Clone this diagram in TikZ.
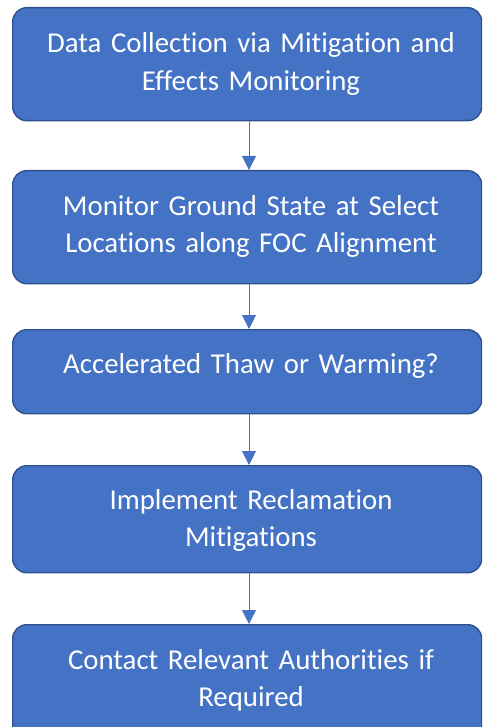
\documentclass[tikz,border=0pt]{standalone}
\usepackage{fontspec}
\setmainfont[Ligatures=NoCommon]{Carlito}
\usetikzlibrary{arrows.meta}
\definecolor{boxfill}{HTML}{4472C4}
\definecolor{boxline}{HTML}{2F528F}
\tikzset{
  flowbox/.style={draw=boxline, line width=1.4pt, fill=boxfill, rounded corners=14pt},
  flowtext/.style={text=white, font=\fontsize{28.8}{37.5}\selectfont, align=center, text width=460pt, anchor=base, inner sep=0pt},
  flowarrow/.style={draw=boxfill, line width=1pt, -{Triangle[length=14pt, width=14pt]}}
}
\begin{document}
\begin{tikzpicture}[x=1pt,y=-1pt]
\useasboundingbox (0,0) rectangle (482,727);
\begin{scope}
\clip (0,0) rectangle (482,727);
\node[flowbox, minimum width=469pt, minimum height=113pt, anchor=north west] (b1) at (12,7) {};
\node[flowbox, minimum width=469pt, minimum height=113pt, anchor=north west] (b2) at (12,170) {};
\node[flowbox, minimum width=469pt, minimum height=84pt, anchor=north west] (b3) at (12,329) {};
\node[flowbox, minimum width=469pt, minimum height=107pt, anchor=north west] (b4) at (12,465) {};
\node[flowbox, minimum width=469pt, minimum height=115pt, anchor=north west] (b5) at (12,624) {};
\end{scope}
\node[flowtext] (t1) at (251,53) {Data Collection via Mitigation and\\Effects Monitoring};
\node[flowtext] (t2) at (251,215) {Monitor Ground State at Select\\Locations along FOC Alignment};
\node[flowtext] (t3) at (251,373) {Accelerated Thaw or Warming?};
\node[flowtext] (t4) at (251,509) {Implement Reclamation\\Mitigations};
\node[flowtext] (t5) at (251,669) {Contact Relevant Authorities if\\Required};
\draw[flowarrow] (b1.south -| 249,0) -- (b2.north -| 249,0);
\draw[flowarrow] (b2.south -| 249,0) -- (b3.north -| 249,0);
\draw[flowarrow] (b3.south -| 249,0) -- (b4.north -| 249,0);
\draw[flowarrow] (b4.south -| 249,0) -- (b5.north -| 249,0);
\end{tikzpicture}
\end{document}
